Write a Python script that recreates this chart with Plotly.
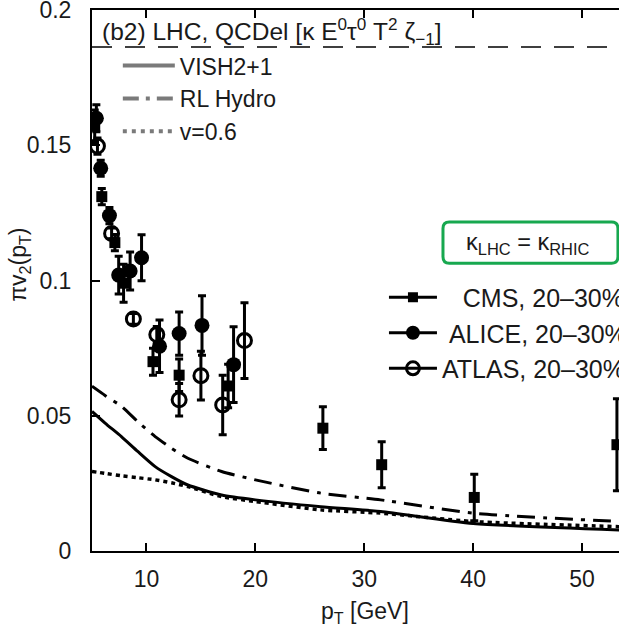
import plotly.graph_objects as go

# ---- data ----
cms_pt = [5.25, 5.9, 7.1, 7.9, 10.6, 13.0, 17.5, 26.2, 31.6, 40.1, 53.2]
cms_v = [0.157, 0.131, 0.114, 0.099, 0.070, 0.065, 0.061, 0.0454, 0.0319, 0.0198, 0.0393]
cms_err = [0.006, 0.003, 0.003, 0.007, 0.005, 0.006, 0.008, 0.0079, 0.0085, 0.0086, 0.017]

alice_pt = [5.4, 5.8, 6.6, 7.45, 8.5, 9.55, 11.2, 13.0, 15.1, 18.0]
alice_v = [0.160, 0.1415, 0.124, 0.102, 0.1035, 0.1084, 0.0757, 0.0804, 0.0834, 0.0689]
alice_err = [0.005, 0.003, 0.003, 0.007, 0.007, 0.0085, 0.0097, 0.008, 0.011, 0.014]

atlas_pt = [5.5, 6.8, 8.8, 10.95, 13.0, 15.0, 17.0, 19.0]
atlas_v = [0.1497, 0.1174, 0.0858, 0.080, 0.0559, 0.0648, 0.054, 0.0778]
atlas_err = [0.003, 0.002, 0.002, 0.003, 0.006, 0.009, 0.011, 0.014]

curve_pt = [5.0, 6.2, 7.7, 9.2, 10.8, 12.3, 13.8, 16.9, 20.0, 26.0, 31.5, 40.0, 53.4]
vish_v = [0.0516, 0.0473, 0.0423, 0.0368, 0.0312, 0.0275, 0.0244, 0.0207, 0.0189, 0.0164, 0.0146, 0.0102, 0.0078]
rl_v = [0.0609, 0.0575, 0.0535, 0.0478, 0.0423, 0.0380, 0.0343, 0.0294, 0.0263, 0.0214, 0.0189, 0.0140, 0.0109]
v06_v = [0.0294, 0.0287, 0.0278, 0.0271, 0.0263, 0.0252, 0.0238, 0.0201, 0.0183, 0.0152, 0.0140, 0.0109, 0.0090]

ref_line_v = 0.1863
x_ticks = [10, 20, 30, 40, 50]
y_ticks = [0, 0.05, 0.1, 0.15, 0.2]
y_ticktext = ["0", "0.05", "0.1", "0.15", "0.2"]

FONT = "Liberation Sans, Arial, sans-serif"
TXT = "#1a1a1a"
fig = go.Figure()

# model curves
fig.add_trace(go.Scatter(x=curve_pt, y=vish_v, mode="lines", line=dict(color="black", width=3, shape="spline", smoothing=0.6), showlegend=False))
fig.add_trace(go.Scatter(x=curve_pt, y=rl_v, mode="lines", line=dict(color="black", width=3, dash="18px,8px,4px,8px", shape="spline", smoothing=0.6), showlegend=False))
fig.add_trace(go.Scatter(x=curve_pt, y=v06_v, mode="lines", line=dict(color="black", width=3.5, dash="4px,4px", shape="spline", smoothing=0.6), showlegend=False))

# horizontal dashed reference line
fig.add_hline(y=ref_line_v, line=dict(color="black", width=1.5, dash="20px,13px"))

# data
err_style = dict(type="data", thickness=3, width=4, color="black")
fig.add_trace(go.Scatter(x=cms_pt, y=cms_v, mode="markers", marker=dict(symbol="square", size=11, color="black"),
                         error_y=dict(array=cms_err, **err_style), showlegend=False))
fig.add_trace(go.Scatter(x=alice_pt, y=alice_v, mode="markers", marker=dict(symbol="circle", size=15, color="black"),
                         error_y=dict(array=alice_err, **err_style), showlegend=False))
fig.add_trace(go.Scatter(x=atlas_pt, y=atlas_v, mode="markers", marker=dict(symbol="circle-open", size=14, color="black", line=dict(width=3, color="black")),
                         error_y=dict(array=atlas_err, **err_style), showlegend=False))

# legend keys (model)
gray = "#7a7a7a"
fig.add_trace(go.Scatter(x=[None], y=[None], mode="lines", name="VISH2+1", line=dict(color=gray, width=4), legend="legend", legendgroup="a"))
fig.add_trace(go.Scatter(x=[None], y=[None], mode="lines", name="RL Hydro", line=dict(color=gray, width=4, dash="16px,7px,4px,7px"), legend="legend", legendgroup="b"))
fig.add_trace(go.Scatter(x=[None], y=[None], mode="lines", name="v=0.6", line=dict(color=gray, width=4, dash="4px,5px"), legend="legend", legendgroup="c"))

# legend keys (data)
nb = "\u00a0"
fig.add_trace(go.Scatter(x=[None], y=[None], mode="lines+markers", name=nb * 3 + "CMS, 20\u201330%", line=dict(color="black", width=3),
                         marker=dict(symbol="square", size=10, color="black"), legend="legend2", legendgroup="d"))
fig.add_trace(go.Scatter(x=[None], y=[None], mode="lines+markers", name=nb + "ALICE, 20\u201330%", line=dict(color="black", width=3),
                         marker=dict(symbol="circle", size=14, color="black"), legend="legend2", legendgroup="e"))
fig.add_trace(go.Scatter(x=[None], y=[None], mode="lines+markers", name="ATLAS, 20\u201330%", line=dict(color="black", width=3),
                         marker=dict(symbol="circle-open", size=13, color="black", line=dict(width=3)), legend="legend2", legendgroup="f"))

# panel title
fig.add_annotation(text="(b2) LHC, QCDel [\u03ba E<sup>0</sup>\u03c4<sup>0</sup> T<sup>2</sup> \u03b6<sub>\u22121</sub>]",
                   xref="paper", yref="paper", x=0.015, y=0.96, xanchor="left", yanchor="middle",
                   showarrow=False, font=dict(size=24.5, color=TXT, family=FONT))

# green box
bx0, bx1, by0, by1 = 0.666, 0.998, 0.532, 0.608
rx, ry = 0.012, 0.012
box_path = (f"M{bx0+rx},{by1} L{bx1-rx},{by1} Q{bx1},{by1} {bx1},{by1-ry} L{bx1},{by0+ry} Q{bx1},{by0} {bx1-rx},{by0} "
            f"L{bx0+rx},{by0} Q{bx0},{by0} {bx0},{by0+ry} L{bx0},{by1-ry} Q{bx0},{by1} {bx0+rx},{by1} Z")
fig.add_shape(type="path", path=box_path, xref="paper", yref="paper", line=dict(color="#17a84f", width=3), fillcolor="white")
fig.add_annotation(text="\u03ba<sub>LHC</sub> = \u03ba<sub>RHIC</sub>",
                   xref="paper", yref="paper", x=0.826, y=0.569, xanchor="center", yanchor="middle",
                   showarrow=False, font=dict(size=23.5, color=TXT, family=FONT))

# axis titles
fig.add_annotation(text="\u03c0v<sub>2</sub>(p<sub>T</sub>)", xref="paper", yref="paper", x=-0.1366, y=0.529,
                   xanchor="center", yanchor="middle", textangle=-90, showarrow=False,
                   font=dict(size=23, color=TXT, family=FONT))
fig.add_annotation(text="p<sub>T</sub> [GeV]", xref="paper", yref="paper", x=0.518, y=-0.1146,
                   xanchor="center", yanchor="middle", showarrow=False,
                   font=dict(size=23, color=TXT, family=FONT))

fig.update_layout(
    width=619, height=630,
    margin=dict(l=92, r=0, t=10, b=79, autoexpand=False),
    plot_bgcolor="white", paper_bgcolor="white",
    font=dict(family=FONT, size=23, color=TXT),
    legend=dict(x=0.049, y=0.937, xanchor="left", yanchor="top", bgcolor="rgba(0,0,0,0)",
                font=dict(size=23, color=TXT), tracegroupgap=0, itemwidth=52),
    legend2=dict(x=0.554, y=0.511, xanchor="left", yanchor="top", bgcolor="rgba(0,0,0,0)",
                 font=dict(size=25, color=TXT), tracegroupgap=0, itemwidth=48),
    xaxis=dict(range=[5, 53.39], tickvals=x_ticks, ticks="inside", ticklen=8, tickwidth=1.5, tickcolor="black",
               showline=True, linecolor="black", linewidth=2, mirror="ticks", showgrid=False, zeroline=False,
               ticklabelstandoff=6, ticklabeloverflow="allow", tickfont=dict(size=23, color=TXT)),
    yaxis=dict(range=[0, 0.2], tickvals=y_ticks, ticktext=y_ticktext, ticks="inside", ticklen=8, tickwidth=1.5, tickcolor="black",
               showline=True, linecolor="black", linewidth=2, mirror=False, showgrid=False, zeroline=False,
               ticklabelstandoff=14, ticklabeloverflow="allow", tickfont=dict(size=23, color=TXT)),
)

fig.write_html("out.html")
